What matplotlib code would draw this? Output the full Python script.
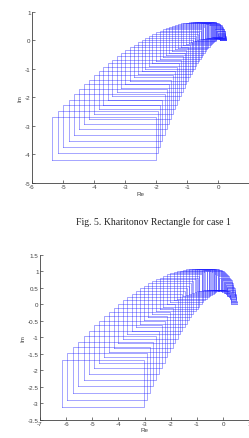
import matplotlib
matplotlib.use("Agg")
import matplotlib.pyplot as plt

plt.rcParams['font.family'] = ['Liberation Sans', 'DejaVu Sans']
plt.rcParams['axes.unicode_minus'] = False

# === CASE 1: Kharitonov rectangle bounds, one entry per frequency ===
c1_re_min = [0.05, 0.05, 0.04, 0.04, 0.03, 0.01, 0.00, -0.02, -0.05, -0.07,
             -0.10, -0.13, -0.17, -0.20, -0.24, -0.29, -0.33, -0.38, -0.44, -0.49,
             -0.55, -0.61, -0.68, -0.74, -0.81, -0.89, -0.96, -1.04, -1.13, -1.21,
             -1.30, -1.39, -1.49, -1.58, -1.68, -1.79, -1.89, -2.00, -2.12, -2.23,
             -2.35, -2.47, -2.60, -2.72, -2.85, -2.99, -3.12, -3.26, -3.41, -3.55,
             -3.70, -3.85, -4.01, -4.16, -4.32, -4.49, -4.65, -4.82, -5.00, -5.17,
             -5.35]
c1_re_max = [0.25, 0.25, 0.25, 0.24, 0.24, 0.23, 0.23, 0.22, 0.21, 0.20,
             0.19, 0.17, 0.16, 0.14, 0.13, 0.11, 0.09, 0.07, 0.05, 0.02,
             0.00, -0.03, -0.06, -0.08, -0.11, -0.14, -0.18, -0.21, -0.24, -0.28,
             -0.32, -0.36, -0.40, -0.44, -0.48, -0.52, -0.57, -0.61, -0.66, -0.71,
             -0.76, -0.81, -0.86, -0.92, -0.97, -1.03, -1.08, -1.14, -1.20, -1.26,
             -1.33, -1.39, -1.46, -1.52, -1.59, -1.66, -1.73, -1.80, -1.87, -1.94,
             -2.02]
c1_im_min = [0.00, 0.01, 0.02, 0.03, 0.04, 0.05, 0.06, 0.07, 0.08, 0.09,
             0.09, 0.09, 0.10, 0.10, 0.10, 0.09, 0.09, 0.08, 0.07, 0.06,
             0.05, 0.03, 0.01, -0.01, -0.04, -0.07, -0.10, -0.14, -0.18, -0.22,
             -0.27, -0.32, -0.37, -0.43, -0.50, -0.57, -0.64, -0.72, -0.80, -0.89,
             -0.99, -1.09, -1.19, -1.30, -1.42, -1.54, -1.67, -1.80, -1.94, -2.09,
             -2.25, -2.41, -2.57, -2.75, -2.93, -3.12, -3.32, -3.52, -3.73, -3.95,
             -4.18]
c1_im_max = [0.00, 0.04, 0.08, 0.12, 0.16, 0.20, 0.23, 0.27, 0.31, 0.34,
             0.38, 0.41, 0.44, 0.47, 0.50, 0.52, 0.54, 0.56, 0.58, 0.60,
             0.61, 0.62, 0.63, 0.63, 0.63, 0.63, 0.63, 0.62, 0.60, 0.59,
             0.57, 0.54, 0.51, 0.47, 0.44, 0.39, 0.34, 0.29, 0.23, 0.16,
             0.09, 0.02, -0.06, -0.15, -0.24, -0.34, -0.45, -0.56, -0.68, -0.81,
             -0.94, -1.08, -1.23, -1.38, -1.54, -1.71, -1.89, -2.08, -2.27, -2.47,
             -2.68]

# === CASE 2 ===
c2_re_min = [0.32, 0.32, 0.31, 0.30, 0.29, 0.27, 0.26, 0.23, 0.20, 0.17,
             0.14, 0.10, 0.06, 0.02, -0.03, -0.08, -0.14, -0.20, -0.26, -0.33,
             -0.40, -0.47, -0.55, -0.63, -0.72, -0.81, -0.90, -0.99, -1.09, -1.19,
             -1.30, -1.41, -1.52, -1.64, -1.76, -1.88, -2.01, -2.14, -2.28, -2.42,
             -2.56, -2.71, -2.86, -3.01, -3.16, -3.32, -3.49, -3.66, -3.83, -4.00,
             -4.18, -4.36, -4.55, -4.74, -4.93, -5.12, -5.32, -5.53, -5.74, -5.95,
             -6.16]
c2_re_max = [0.52, 0.52, 0.52, 0.51, 0.50, 0.50, 0.48, 0.47, 0.46, 0.44,
             0.42, 0.40, 0.38, 0.35, 0.33, 0.30, 0.27, 0.24, 0.20, 0.17,
             0.13, 0.09, 0.05, 0.00, -0.04, -0.09, -0.14, -0.19, -0.25, -0.30,
             -0.36, -0.42, -0.48, -0.55, -0.61, -0.68, -0.75, -0.82, -0.90, -0.97,
             -1.05, -1.13, -1.21, -1.29, -1.38, -1.47, -1.55, -1.65, -1.74, -1.83,
             -1.93, -2.03, -2.13, -2.23, -2.34, -2.45, -2.55, -2.67, -2.78, -2.89,
             -3.01]
c2_im_min = [0.00, 0.03, 0.06, 0.09, 0.13, 0.16, 0.18, 0.21, 0.24, 0.27,
             0.29, 0.32, 0.34, 0.36, 0.38, 0.40, 0.41, 0.42, 0.43, 0.44,
             0.45, 0.45, 0.45, 0.45, 0.44, 0.43, 0.42, 0.40, 0.38, 0.35,
             0.32, 0.29, 0.25, 0.21, 0.17, 0.12, 0.06, 0.00, -0.07, -0.14,
             -0.21, -0.30, -0.38, -0.48, -0.58, -0.68, -0.80, -0.91, -1.04, -1.17,
             -1.31, -1.46, -1.61, -1.77, -1.93, -2.11, -2.29, -2.48, -2.68, -2.89,
             -3.10]
c2_im_max = [0.00, 0.06, 0.11, 0.17, 0.23, 0.28, 0.33, 0.39, 0.44, 0.49,
             0.54, 0.59, 0.64, 0.69, 0.73, 0.77, 0.81, 0.85, 0.88, 0.92,
             0.95, 0.97, 1.00, 1.02, 1.03, 1.05, 1.06, 1.07, 1.07, 1.07,
             1.06, 1.06, 1.04, 1.02, 1.00, 0.97, 0.94, 0.91, 0.86, 0.81,
             0.76, 0.70, 0.64, 0.57, 0.49, 0.41, 0.32, 0.22, 0.12, 0.01,
             -0.11, -0.23, -0.36, -0.50, -0.64, -0.80, -0.96, -1.13, -1.30, -1.49,
             -1.68]

caption = "Fig. 5. Kharitonov Rectangle for case 1"
tick_size = 4.5
rect_color = (0.1, 0.1, 1.0)


def draw_rectangles(ax, re_min, re_max, im_min, im_max):
    for x0, x1, y0, y1 in zip(re_min, re_max, im_min, im_max):
        ax.plot([x0, x1, x1, x0, x0], [y0, y0, y1, y1, y0],
                color=rect_color, linewidth=0.5, alpha=0.55)


def style_axes(ax):
    for side in ["top", "right"]:
        ax.spines[side].set_visible(False)
    for side in ["left", "bottom"]:
        ax.spines[side].set_color("#404040")
        ax.spines[side].set_linewidth(0.6)
    ax.tick_params(direction="in", length=2, width=0.5, colors="#404040",
                   labelsize=tick_size, pad=1)
    ax.set_xlabel("Re", fontsize=tick_size, color="#404040", labelpad=1)
    ax.set_ylabel("Im", fontsize=tick_size, color="#404040", labelpad=2)


fig = plt.figure(figsize=(2.49, 4.39), dpi=100)

# top chart
ax1 = fig.add_axes([0.1285, 0.5809, 0.873, 0.390])
draw_rectangles(ax1, c1_re_min, c1_re_max, c1_im_min, c1_im_max)
ax1.set_xlim(-6, 1)
ax1.set_ylim(-5, 1)
ax1.set_xticks(range(-6, 1))
ax1.set_yticks(range(-5, 2))
style_axes(ax1)

# caption between the charts
fig.text(153 / 249, 1 - 222 / 439, caption, ha="center", va="center",
         fontsize=7, family=["Liberation Serif", "DejaVu Serif"], color="#222222")

# bottom chart
ax2 = fig.add_axes([0.1606, 0.0417, 0.840, 0.3752])
draw_rectangles(ax2, c2_re_min, c2_re_max, c2_im_min, c2_im_max)
ax2.set_xlim(-7, 1)
ax2.set_ylim(-3.5, 1.5)
ax2.set_xticks(range(-7, 2))
ax2.set_yticks([1.5, 1, 0.5, 0, -0.5, -1, -1.5, -2, -2.5, -3, -3.5])
ax2.set_yticklabels(["1.5", "1", "0.5", "0", "-0.5", "-1", "-1.5", "-2", "-2.5", "-3", "-3.5"])
style_axes(ax2)

fig.savefig("out.png", dpi=100)
